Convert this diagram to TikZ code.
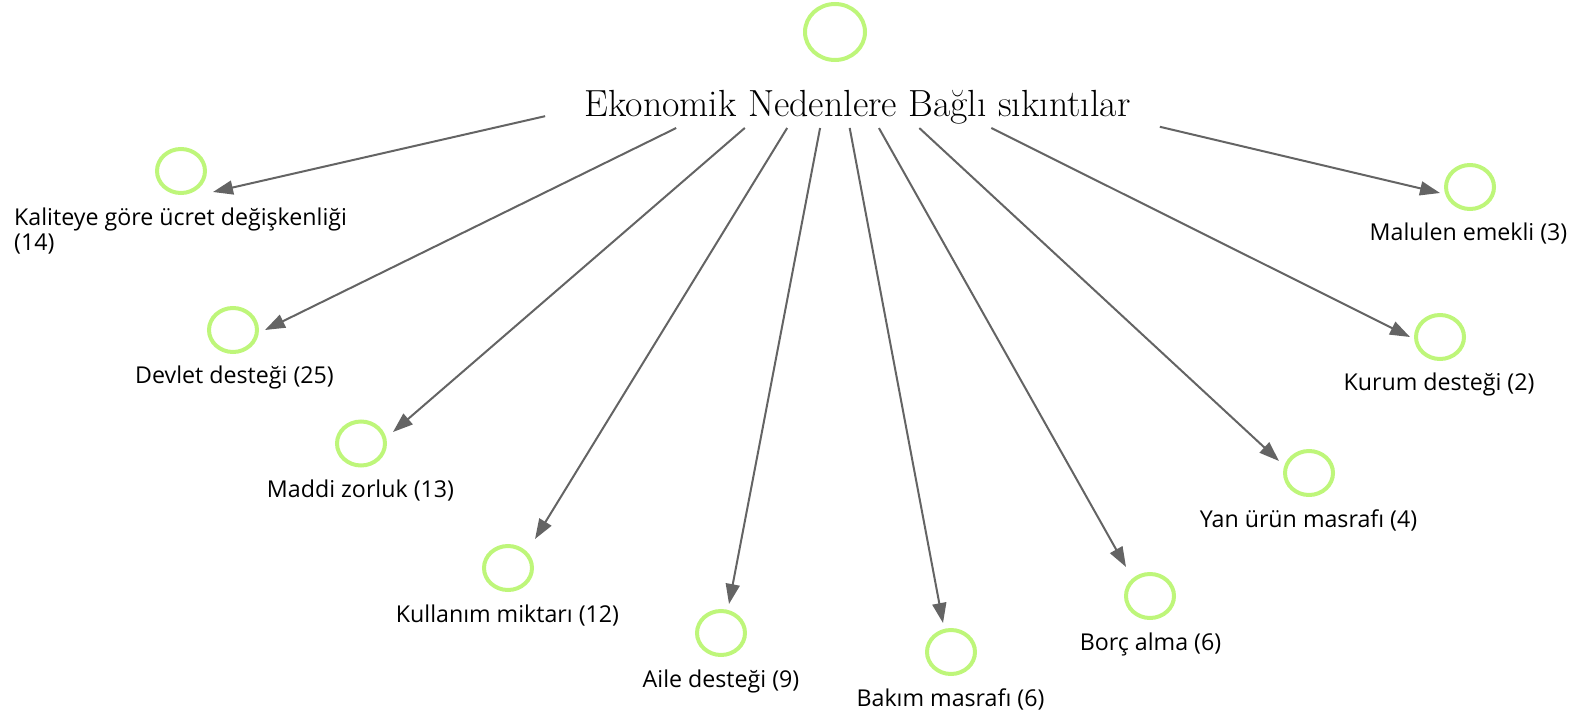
\documentclass[tikz,border=0pt]{standalone}
\usepackage{fontspec}
\setsansfont{Open Sans}
\usetikzlibrary{arrows.meta,calc,shapes.geometric}
\definecolor{ringgreen}{RGB}{190,246,122}
\definecolor{edgegray}{RGB}{100,100,100}
\begin{document}
\begin{tikzpicture}[x=1pt,y=-1pt,
  ring/.style={ellipse,draw=ringgreen,line width=4pt,inner sep=0pt,minimum width=48pt,minimum height=44pt},
  bigring/.style={ring,minimum width=60pt,minimum height=56pt},
  lbl/.style={font=\sffamily\fontsize{23.2}{25}\selectfont,text=black,inner sep=0pt,anchor=base},
  ttl/.style={font=\fontsize{37.8}{42}\selectfont,text=black,inner sep=0pt,anchor=base},
  edge/.style={draw=edgegray,line width=2pt,-{Triangle[length=20pt,width=14pt]}}]
\useasboundingbox (0,0) rectangle (1579,717);
% source
\node[bigring] (top) at (835,32) {};
\node[ttl] (title) at (857.5,116.7) {Ekonomik Nedenlere Bağlı sıkıntılar};
\coordinate (hub) at (835,50);
% targets
\node[ring] (ckal) at (181,171) {};
\node[lbl,anchor=base west,align=left] (lkal) at (14,250) {Kaliteye göre ücret değişkenliği\\(14)};
\node[ring] (cdev) at (233,330) {};
\node[lbl] (ldev) at (234.5,383) {Devlet desteği (25)};
\node[ring] (cmad) at (361,443.5) {};
\node[lbl] (lmad) at (360.5,497) {Maddi zorluk (13)};
\node[ring] (ckul) at (508,568) {};
\node[lbl] (lkul) at (507.5,622) {Kullanım miktarı (12)};
\node[ring] (cail) at (721,633) {};
\node[lbl] (lail) at (721,687) {Aile desteği (9)};
\node[ring] (cbak) at (951,652) {};
\node[lbl] (lbak) at (950.5,706) {Bakım masrafı (6)};
\node[ring] (cbor) at (1150,596) {};
\node[lbl] (lbor) at (1150.5,650) {Borç alma (6)};
\node[ring] (cyan) at (1309,473) {};
\node[lbl] (lyan) at (1308.5,527) {Yan ürün masrafı (4)};
\node[ring] (ckur) at (1440,337) {};
\node[lbl] (lkur) at (1439,390) {Kurum desteği (2)};
\node[ring] (cmal) at (1470,187) {};
\node[lbl] (lmal) at (1468.5,240) {Malulen emekli (3)};
% arrow tips
\coordinate (akal) at (213,192);
\coordinate (adev) at (265,330);
\coordinate (amad) at (393,432);
\coordinate (akul) at (535,539);
\coordinate (aail) at (729,604);
\coordinate (abak) at (943,623);
\coordinate (abor) at (1126,567);
\coordinate (ayan) at (1279,461);
\coordinate (akur) at (1410,337);
\coordinate (amal) at (1440,193);
% edges
\draw[edge] ($(hub)!0.466!(akal)$) -- (akal);
\draw[edge] ($(hub)!0.2786!(adev)$) -- (adev);
\draw[edge] ($(hub)!0.204!(amad)$) -- (amad);
\draw[edge] ($(hub)!0.1595!(akul)$) -- (akul);
\draw[edge] ($(hub)!0.1408!(aail)$) -- (aail);
\draw[edge] ($(hub)!0.136!(abak)$) -- (abak);
\draw[edge] ($(hub)!0.151!(abor)$) -- (abor);
\draw[edge] ($(hub)!0.19!(ayan)$) -- (ayan);
\draw[edge] ($(hub)!0.2718!(akur)$) -- (akur);
\draw[edge] ($(hub)!0.537!(amal)$) -- (amal);
\end{tikzpicture}
\end{document}
